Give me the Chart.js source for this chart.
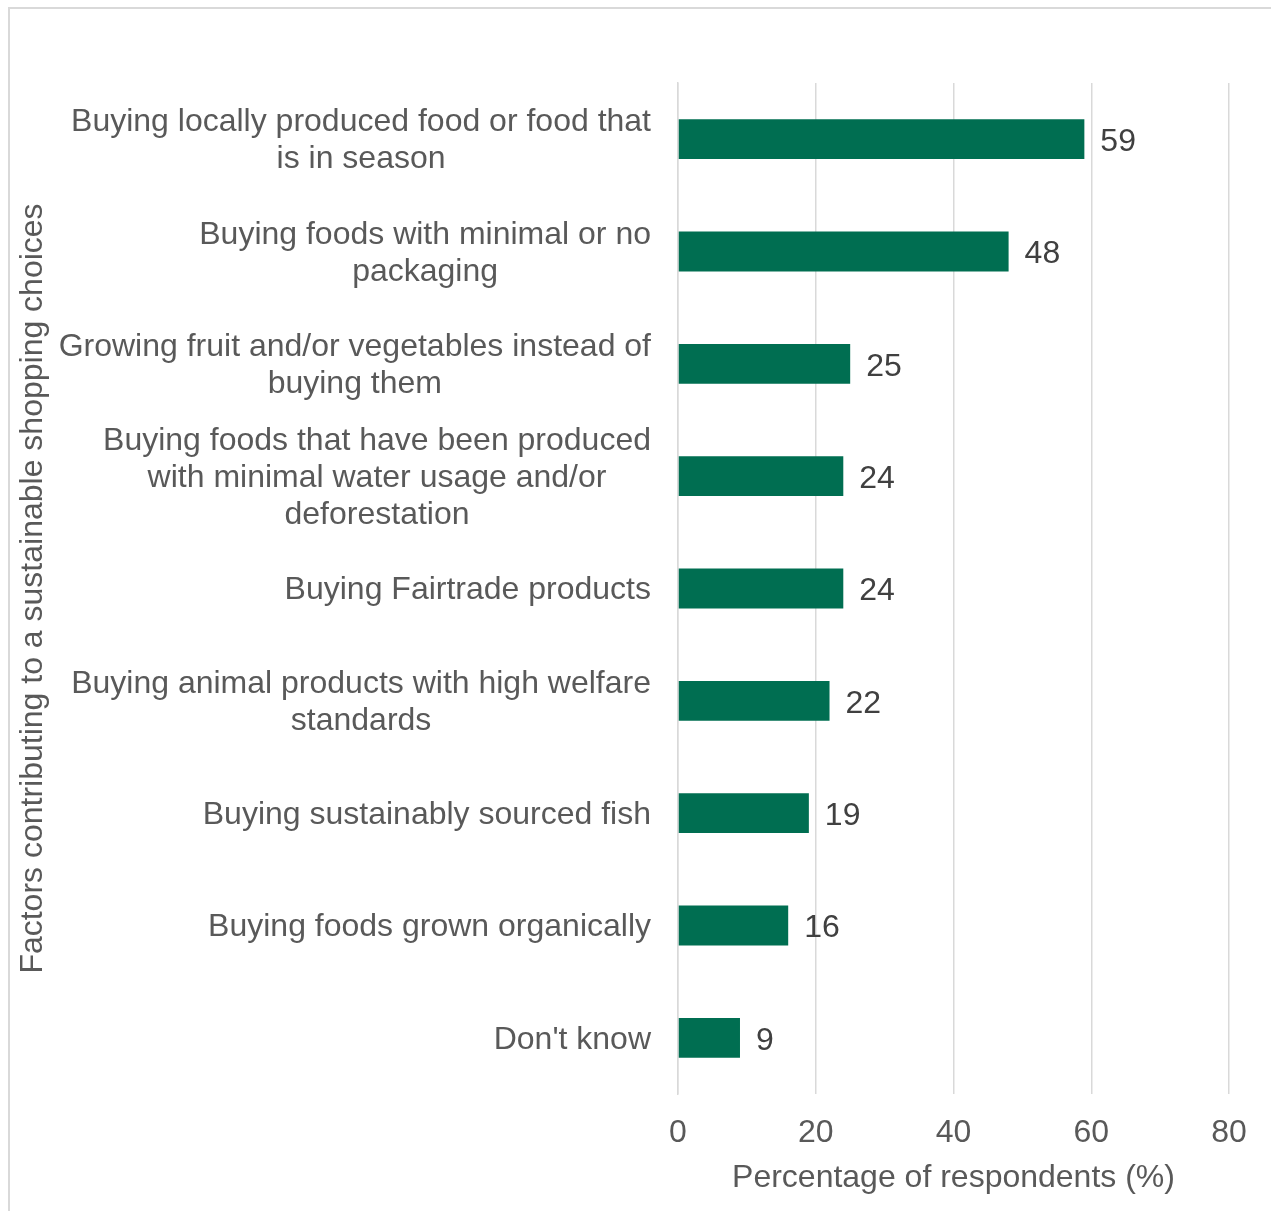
<!DOCTYPE html>
<html>
<head>
<meta charset="utf-8">
<script src="https://cdn.jsdelivr.net/npm/chart.js@4/dist/chart.umd.min.js"></script>
<style>
  html, body { margin: 0; padding: 0; background: #fff; }
  canvas { display: block; }
</style>
</head>
<body>
<canvas id="chart" width="1271" height="1211"></canvas>
<script>
// data
const categories = [
  ["Buying locally produced food or food that", "is in season"],
  ["Buying foods with minimal or no", "packaging"],
  ["Growing fruit and/or vegetables instead of", "buying them"],
  ["Buying foods that have been produced", "with minimal water usage and/or", "deforestation"],
  ["Buying Fairtrade products"],
  ["Buying animal products with high welfare", "standards"],
  ["Buying sustainably sourced fish"],
  ["Buying foods grown organically"],
  ["Don't know"]
];
const percentages = [59, 48, 25, 24, 24, 22, 19, 16, 9];
const xTicks = [0, 20, 40, 60, 80];

const FONT = 'Arial, "Liberation Sans", sans-serif';
const GREEN = '#006E51';
const GREY_TEXT = '#595959';
const GRID = '#D9D9D9';

// category labels: block right-aligned to the axis, lines centered inside the block
const categoryLabels = {
  id: 'categoryLabels',
  afterDraw(chart) {
    const {ctx, scales: {y}, chartArea} = chart;
    ctx.save();
    ctx.font = '32px ' + FONT;
    ctx.fillStyle = GREY_TEXT;
    ctx.textAlign = 'center';
    ctx.textBaseline = 'middle';
    const right = chartArea.left - 27;
    const lineH = 37;
    categories.forEach((lines, i) => {
      const cy = y.getPixelForValue(i) + 2;
      const w = Math.max(...lines.map(l => ctx.measureText(l).width));
      const cx = right - w / 2;
      const top = cy - (lines.length - 1) * lineH / 2;
      lines.forEach((l, j) => ctx.fillText(l, cx, top + j * lineH));
    });
    ctx.restore();
  }
};

// value labels at the end of each bar
const valueLabels = {
  id: 'valueLabels',
  afterDatasetsDraw(chart) {
    const {ctx} = chart;
    const meta = chart.getDatasetMeta(0);
    ctx.save();
    ctx.font = '32px ' + FONT;
    ctx.fillStyle = '#404040';
    ctx.textAlign = 'left';
    ctx.textBaseline = 'middle';
    meta.data.forEach((bar, i) => {
      ctx.fillText(String(percentages[i]), bar.x + 16, bar.y + 3);
    });
    ctx.restore();
  }
};

const frame = {
  id: 'frame',
  beforeDraw(chart) {
    const {ctx, width, height} = chart;
    ctx.save();
    ctx.fillStyle = '#fff';
    ctx.fillRect(0, 0, width, height);
    ctx.strokeStyle = GRID;
    ctx.lineWidth = 2;
    ctx.strokeRect(9, 8, width + 20, height + 20);
    ctx.restore();
  }
};

new Chart(document.getElementById('chart'), {
  type: 'bar',
  data: {
    labels: categories.map(c => c.join(' ')),
    datasets: [{
      data: percentages,
      backgroundColor: GREEN,
      borderWidth: 0,
      barPercentage: 0.355,
      categoryPercentage: 1
    }]
  },
  options: {
    indexAxis: 'y',
    responsive: false,
    animation: false,
    layout: { padding: { top: 83, right: 42, bottom: 10, left: 10 } },
    plugins: {
      legend: { display: false },
      tooltip: { enabled: false }
    },
    scales: {
      x: {
        min: 0,
        max: 80,
        afterBuildTicks(scale) { scale.ticks = xTicks.map(v => ({ value: v })); },
        afterFit(scale) { scale.height = 107; },
        grid: { color: GRID, lineWidth: 1.5, drawTicks: false },
        border: { display: false },
        ticks: {
          padding: 20,
          color: GREY_TEXT,
          font: { size: 32, family: FONT }
        },
        title: {
          display: true,
          text: 'Percentage of respondents (%)',
          color: GREY_TEXT,
          font: { size: 32, family: FONT },
          padding: { top: 4, bottom: 4 }
        }
      },
      y: {
        afterFit(scale) { scale.width = 668; },
        grid: { display: false, drawTicks: false },
        border: { display: true, color: GRID, width: 1.5 },
        ticks: { display: false },
        title: {
          display: true,
          text: 'Factors contributing to a sustainable shopping choices',
          color: GREY_TEXT,
          font: { size: 32, family: FONT },
          padding: { top: 4, bottom: 4 }
        }
      }
    }
  },
  plugins: [frame, valueLabels, categoryLabels]
});
</script>
</body>
</html>
